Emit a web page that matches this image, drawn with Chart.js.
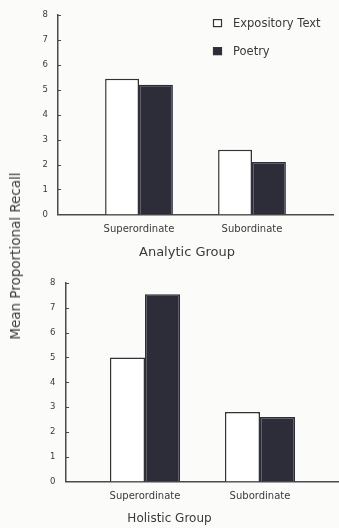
<!DOCTYPE html>
<html>
<head>
<meta charset="utf-8">
<script src="https://cdn.jsdelivr.net/npm/chart.js@4.4.1/dist/chart.umd.min.js"></script>
<style>
  html, body { margin: 0; padding: 0; background: #fbfbfa; }
  body { width: 339px; height: 528px; position: relative; overflow: hidden; font-family: "DejaVu Sans", sans-serif; }
  #topPanel { position: absolute; left: 41px; top: 0; width: 298px; height: 262px; }
  #bottomPanel { position: absolute; left: 0; top: 262px; width: 339px; height: 266px; }
  #yTitle {
    position: absolute; left: 15px; top: 256px;
    transform: translate(-50%, -50%) rotate(-90deg);
    white-space: nowrap; font-size: 13.5px; color: #3a3a3a;
  }
</style>
</head>
<body>
<div id="topPanel"><canvas id="analyticChart"></canvas></div>
<div id="bottomPanel"><canvas id="holisticChart"></canvas></div>
<div id="yTitle">Mean Proportional Recall</div>
<script>
// Recall categories and the two text types
const categories = ['Superordinate', 'Subordinate'];
const seriesNames = ['Expository Text', 'Poetry'];

// Mean proportional recall, analytic group
const analyticExpository = [5.45, 2.6];
const analyticPoetry = [5.2, 2.1];

// Mean proportional recall, holistic group
const holisticExpository = [5.0, 2.8];
const holisticPoetry = [7.55, 2.6];

// Value axis ticks
const yTicks = [0, 1, 2, 3, 4, 5, 6, 7, 8];

const FONT = '"DejaVu Sans", sans-serif';
const INK = '#3a3a3a';
const AXIS = '#4a4a4a';
const DARK = '#2d2d3a';

// Short tick marks drawn on the inner side of the value axis
const innerTicks = {
  id: 'innerTicks',
  afterDraw(chart) {
    const { ctx, chartArea, scales } = chart;
    ctx.save();
    ctx.strokeStyle = AXIS;
    ctx.lineWidth = 1;
    scales.y.ticks.forEach(t => {
      if (t.value === 0) return;
      const y = Math.round(scales.y.getPixelForValue(t.value)) + 0.5;
      ctx.beginPath();
      ctx.moveTo(chartArea.left, y);
      ctx.lineTo(chartArea.left + 3, y);
      ctx.stroke();
    });
    ctx.restore();
  }
};

// Legend placed inside the plot area, stacked vertically
const insideLegend = {
  id: 'insideLegend',
  afterDraw(chart, args, opts) {
    if (!opts.show) return;
    const { ctx, chartArea } = chart;
    ctx.save();
    ctx.font = '11.5px ' + FONT;
    ctx.textBaseline = 'middle';
    chart.data.datasets.forEach((ds, i) => {
      const x = chartArea.left + opts.x;
      const y = chartArea.top + opts.y + i * opts.gap;
      ctx.fillStyle = ds.backgroundColor;
      ctx.fillRect(x, y - 4, 9, 8);
      ctx.strokeStyle = '#333';
      ctx.lineWidth = 1.2;
      ctx.strokeRect(x + 0.5, y - 3.5, 8, 7);
      ctx.fillStyle = INK;
      ctx.fillText(ds.label, x + 20, y + 0.5);
    });
    ctx.restore();
  }
};

function groupChart(canvasId, expo, poetry, cfg) {
  return new Chart(document.getElementById(canvasId), {
    type: 'bar',
    data: {
      datasets: [
        {
          label: seriesNames[0],
          data: expo.map((v, i) => ({ x: i + 1, y: v })),
          backgroundColor: '#ffffff',
          borderColor: '#333',
          borderWidth: 1.5
        },
        {
          label: seriesNames[1],
          data: poetry.map((v, i) => ({ x: i + 1, y: v })),
          backgroundColor: DARK,
          borderColor: DARK,
          borderWidth: 1.5
        }
      ]
    },
    options: {
      responsive: true,
      maintainAspectRatio: false,
      animation: false,
      events: [],
      categoryPercentage: cfg.catPct,
      barPercentage: 1.0,
      layout: { padding: cfg.padding },
      scales: {
        x: {
          type: 'linear',
          min: cfg.xMin,
          max: cfg.xMax,
          offset: false,
          grid: { display: false, drawTicks: false, offset: false },
          border: { display: true, color: AXIS, width: 1.5 },
          afterBuildTicks: s => { s.ticks = categories.map((c, i) => ({ value: i + 1 })); },
          ticks: {
            callback: v => categories[v - 1] ?? '',
            autoSkip: false, maxRotation: 0,
            font: { family: FONT, size: 10 },
            color: INK,
            padding: cfg.xPad
          },
          afterFit: s => { s.height = cfg.xHeight; }
        },
        y: {
          min: 0,
          max: 8,
          grid: { display: false, drawTicks: false },
          border: { display: true, color: AXIS, width: 1.5 },
          afterBuildTicks: s => { s.ticks = yTicks.map(v => ({ value: v })); },
          ticks: {
            font: { family: FONT, size: 8.5 },
            color: INK,
            padding: cfg.yPad
          },
          afterFit: s => { s.width = cfg.yWidth; }
        }
      },
      plugins: {
        legend: { display: false },
        tooltip: { enabled: false },
        title: {
          display: true,
          position: 'bottom',
          text: cfg.title,
          color: INK,
          font: { family: FONT, size: cfg.titleSize, weight: 'normal' },
          padding: { top: 0, bottom: cfg.titleBottom }
        },
        insideLegend: cfg.legend
      }
    },
    plugins: [innerTicks, insideLegend]
  });
}

groupChart('analyticChart', analyticExpository, analyticPoetry, {
  title: 'Analytic Group',
  titleSize: 13,
  titleBottom: 2,
  padding: { top: 15, right: 6, left: 0, bottom: 0 },
  xMin: 0.283, xMax: 2.717,
  catPct: 0.6,
  xHeight: 30,
  xPad: 9,
  yWidth: 17,
  yPad: 10,
  legend: { show: true, x: 155, y: 8, gap: 28 }
});

groupChart('holisticChart', holisticExpository, holisticPoetry, {
  title: 'Holistic Group',
  titleSize: 12,
  titleBottom: 2,
  padding: { top: 21, right: 0, left: 0, bottom: 0 },
  xMin: 0.313, xMax: 2.687,
  catPct: 0.61,
  xHeight: 30,
  xPad: 9,
  yWidth: 66,
  yPad: 10.5,
  legend: { show: false }
});
</script>
</body>
</html>
